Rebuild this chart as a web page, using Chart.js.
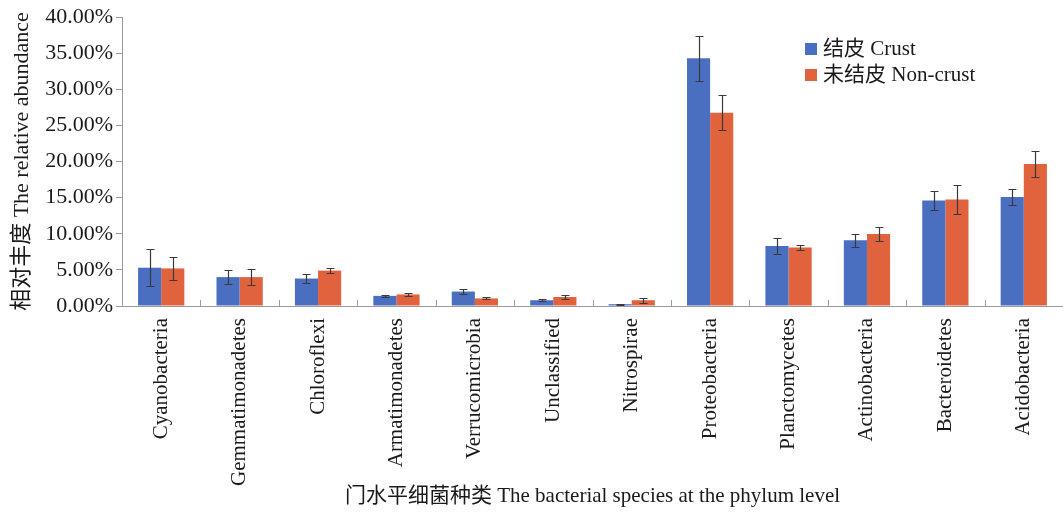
<!DOCTYPE html>
<html>
<head>
<meta charset="utf-8">
<script src="https://cdn.jsdelivr.net/npm/chart.js@4"></script>
<style>
  html, body { margin: 0; padding: 0; background: #ffffff; }
  #wrap { width: 1063px; height: 515px; }
</style>
</head>
<body>
<div id="wrap"><canvas id="c" width="1063" height="515"></canvas></div>
<script>
// Phyla at the phylum level
const categories = ['Cyanobacteria', 'Gemmatimonadetes', 'Chloroflexi', 'Armatimonadetes',
  'Verrucomicrobia', 'Unclassified', 'Nitrospirae', 'Proteobacteria', 'Planctomycetes',
  'Actinobacteria', 'Bacteroidetes', 'Acidobacteria'];

// Relative abundance (%) and standard error for crusted soil
const crust = [5.3, 4.0, 3.8, 1.4, 2.0, 0.8, 0.25, 34.3, 8.3, 9.1, 14.6, 15.1];
const crustErr = [2.6, 1.0, 0.6, 0.1, 0.4, 0.1, 0.05, 3.1, 1.05, 0.9, 1.25, 1.1];

// Relative abundance (%) and standard error for non-crusted soil
const nonCrust = [5.2, 4.0, 4.9, 1.6, 1.05, 1.25, 0.8, 26.75, 8.1, 9.95, 14.75, 19.65];
const nonCrustErr = [1.6, 1.1, 0.4, 0.2, 0.15, 0.3, 0.35, 2.45, 0.4, 1.0, 2.0, 1.85];

const seriesNames = ['结皮 Crust', '未结皮 Non-crust'];
const yTicks = [0, 5, 10, 15, 20, 25, 30, 35, 40];

const FONT = "'Liberation Serif', 'Noto Sans CJK SC', serif";
const BLUE = '#4a6fc1';
const ORANGE = '#e0633d';

// Error bars with caps, positioned through the chart's own scales
const errorBars = {
  id: 'errorBars',
  afterDatasetsDraw(chart) {
    const ctx = chart.ctx;
    const y = chart.scales.y;
    ctx.save();
    ctx.strokeStyle = '#3a3a3a';
    ctx.lineWidth = 1.2;
    chart.data.datasets.forEach((ds, di) => {
      const meta = chart.getDatasetMeta(di);
      meta.data.forEach((bar, i) => {
        const v = ds.data[i], e = ds.errors[i];
        const yt = Math.round(y.getPixelForValue(v + e)) + 0.5;
        const yb = Math.round(y.getPixelForValue(Math.max(v - e, 0))) + 0.5;
        const x = Math.round(bar.x) + 0.5;
        ctx.beginPath();
        ctx.moveTo(x, yt); ctx.lineTo(x, yb);
        ctx.moveTo(x - 4, yt); ctx.lineTo(x + 4, yt);
        ctx.moveTo(x - 4, yb); ctx.lineTo(x + 4, yb);
        ctx.stroke();
      });
    });
    ctx.restore();
  }
};

// Short inward tick marks between categories on the x axis
const categoryTicks = {
  id: 'categoryTicks',
  afterDraw(chart) {
    const ctx = chart.ctx;
    const xs = chart.scales.x;
    const base = chart.chartArea.bottom;
    ctx.save();
    ctx.strokeStyle = '#9a9a9a';
    ctx.lineWidth = 1;
    for (let i = 1; i < categories.length; i++) {
      const x = Math.round((xs.getPixelForTick(i - 1) + xs.getPixelForTick(i)) / 2) + 0.5;
      ctx.beginPath();
      ctx.moveTo(x, base);
      ctx.lineTo(x, base - 6);
      ctx.stroke();
    }
    ctx.restore();
  }
};

// Legend drawn inside the plot area, upper right
const innerLegend = {
  id: 'innerLegend',
  afterDraw(chart) {
    const ctx = chart.ctx;
    const x0 = 805, y0 = 49, gap = 26;
    ctx.save();
    ctx.font = '21px ' + FONT;
    ctx.textBaseline = 'middle';
    ctx.textAlign = 'left';
    chart.data.datasets.forEach((ds, i) => {
      const cy = y0 + i * gap;
      ctx.fillStyle = ds.backgroundColor;
      ctx.fillRect(x0, cy - 6, 12, 12);
      ctx.fillStyle = '#1a1a1a';
      ctx.fillText(ds.label, x0 + 18, cy);
    });
    ctx.restore();
  }
};

new Chart(document.getElementById('c'), {
  type: 'bar',
  data: {
    labels: categories,
    datasets: [
      { label: seriesNames[0], data: crust, errors: crustErr, backgroundColor: BLUE },
      { label: seriesNames[1], data: nonCrust, errors: nonCrustErr, backgroundColor: ORANGE }
    ]
  },
  options: {
    responsive: false,
    animation: false,
    devicePixelRatio: 1,
    layout: { padding: { top: 17, right: 0, left: 0, bottom: 0 } },
    datasets: { bar: { categoryPercentage: 0.59, barPercentage: 1.0 } },
    plugins: { legend: { display: false }, tooltip: { enabled: false } },
    scales: {
      x: {
        grid: { display: false, drawTicks: false },
        border: { display: true, color: '#9a9a9a', width: 1 },
        ticks: {
          autoSkip: false, minRotation: 90, maxRotation: 90, padding: 12,
          color: '#1a1a1a', font: { family: FONT, size: 21 }
        },
        title: {
          display: true, text: '门水平细菌种类 The bacterial species at the phylum level',
          color: '#1a1a1a', font: { family: FONT, size: 21 }, padding: { top: 0, bottom: 6 }
        },
        afterFit(scale) { scale.height = 209; }
      },
      y: {
        min: 0, max: 40,
        afterBuildTicks(scale) { scale.ticks = yTicks.map(v => ({ value: v })); },
        grid: { drawOnChartArea: false, drawTicks: true, tickLength: 6, color: '#9a9a9a' },
        border: { display: true, color: '#9a9a9a', width: 1 },
        ticks: {
          padding: 3, color: '#1a1a1a', font: { family: FONT, size: 22 },
          callback: v => v.toFixed(2) + '%'
        },
        title: {
          display: true, text: '相对丰度 The relative abundance',
          color: '#1a1a1a', font: { family: FONT, size: 22 }, padding: { top: 9, bottom: 4 }
        },
        afterFit(scale) { scale.width = 122; }
      }
    }
  },
  plugins: [errorBars, categoryTicks, innerLegend]
});
</script>
</body>
</html>
